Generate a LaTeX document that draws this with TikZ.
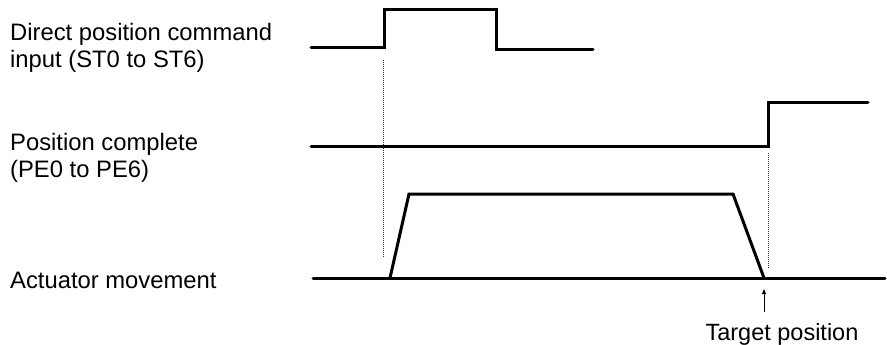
\documentclass[tikz,border=0pt]{standalone}
\usepackage{fontspec}
\setmainfont{Liberation Sans}
\usetikzlibrary{arrows.meta}
\begin{document}
\begin{tikzpicture}[x=1pt,y=-1pt,
  signal/.style={line width=3pt,line cap=round,line join=miter},
  guide/.style={line width=0.9pt,dash pattern=on 1pt off 1pt,black!80},
  lbl/.style={inner sep=0pt,anchor=base west,align=left,font=\fontsize{23.8}{26.5}\selectfont},
  pointer/.style={line width=1pt,-{Triangle[length=5pt,width=4pt]}}]
\useasboundingbox (0,0) rectangle (887,345);
% labels (anchor at baseline of last line)
\node[lbl] (l1) at (10,67) {Direct position command\\input (ST0 to ST6)};
\node[lbl] (l2) at (10,177) {Position complete\\(PE0 to PE6)};
\node[lbl] (l3) at (10,288) {Actuator movement};
% signal 1
\draw[signal] (311,48) -- (384,48) -- (384,10) -- (496,10) -- (496,50) -- (593,50);
% signal 2
\draw[signal] (311,146) -- (768,146) -- (768,103) -- (868,103);
% signal 3
\draw[signal] (313,278) -- (885,278);
\draw[signal] (390,278) -- (409,194) -- (733,194) -- (764,278);
% guides
\coordinate (g1a) at (383,60); \coordinate (g1b) at (383,258);
\coordinate (g2a) at (768,153); \coordinate (g2b) at (768,268);
\draw[guide] (g1a) -- (g1b);
\draw[guide] (g2a) -- (g2b);
% target
\node[inner sep=0pt,anchor=base,font=\fontsize{23.5}{26.5}\selectfont] (tp) at (782,340) {Target position};
\coordinate (tpt) at (764,289);
\coordinate (tpb) at (764,312);
\draw[pointer] (tpb) -- (tpt);
\end{tikzpicture}
\end{document}
